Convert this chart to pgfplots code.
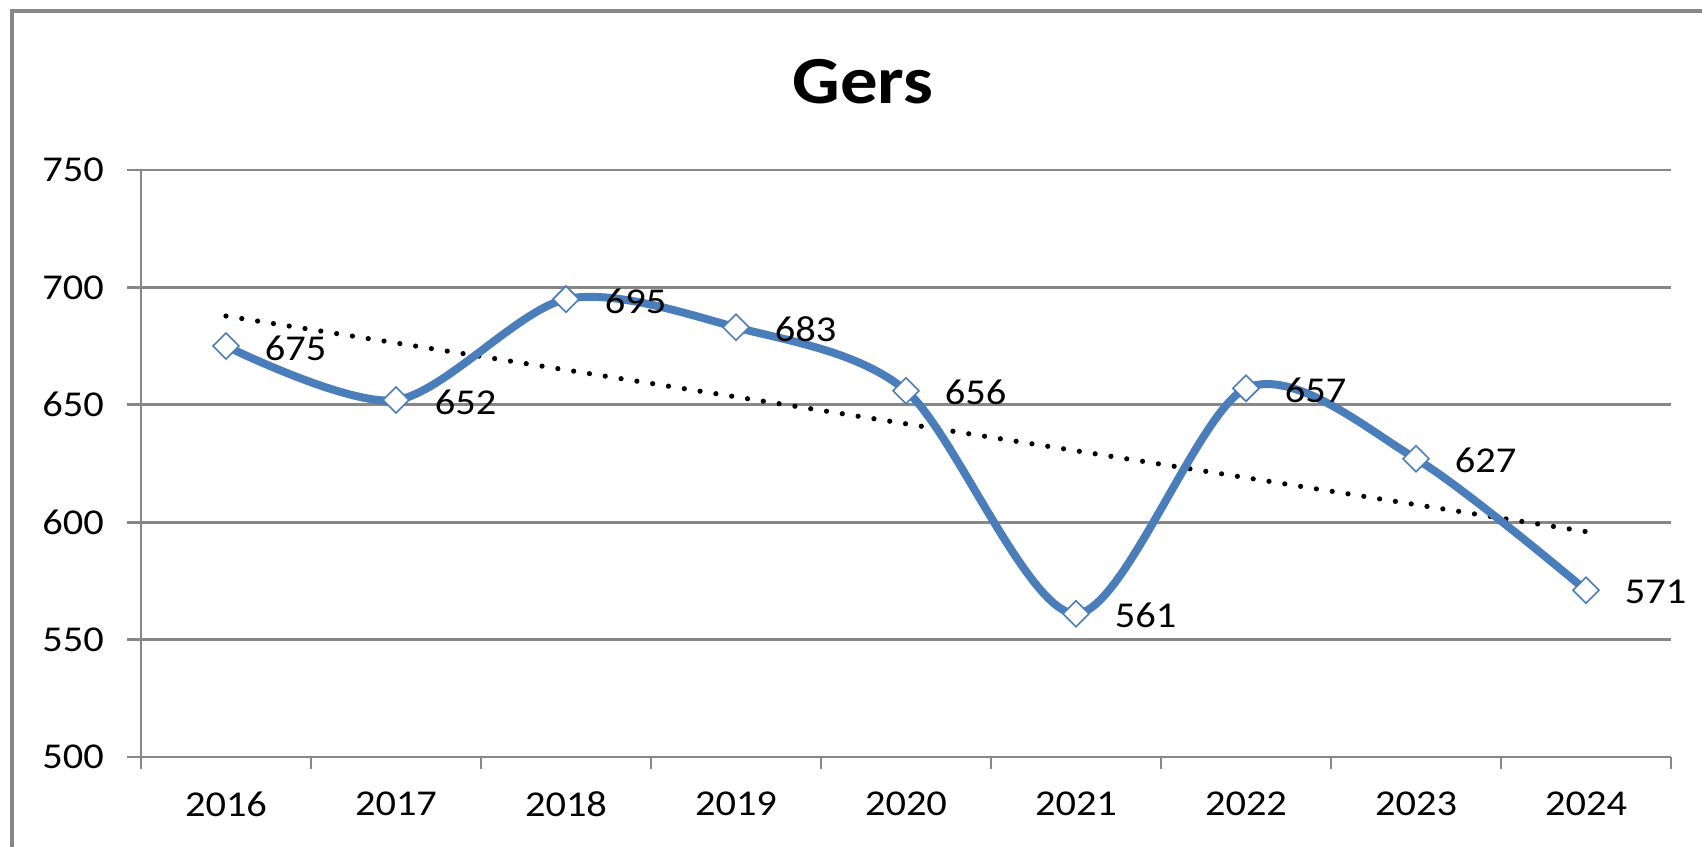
\documentclass[border=0pt]{standalone}
\usepackage{pgfplots}
\pgfplotsset{compat=1.18}
\usepackage{fontspec}
\setmainfont{Carlito}[FakeStretch=1.11]
\definecolor{lineblue}{HTML}{4A7EBB}
\definecolor{gridgray}{HTML}{878787}
\begin{document}
\begin{tikzpicture}
\begin{axis}[
  scale only axis,
  width=765pt, height=293.5pt,
  xmin=-0.5, xmax=8.5,
  ymin=500, ymax=750,
  ytick={500,550,...,750},
  xtick={0,...,8},
  xticklabels={2016,2017,2018,2019,2020,2021,2022,2023,2024},
  minor xtick={-0.5,0.5,...,8.5},
  axis x line=bottom, axis y line=left,
  axis line style={draw=gridgray, line width=1.4pt, -},
  ymajorgrids,
  major grid style={draw=gridgray, line width=1.4pt},
  tick align=outside,
  major x tick style={draw=none},
  minor x tick style={draw=gridgray, line width=1.4pt},
  minor tick length=6pt,
  major y tick style={draw=gridgray, line width=1.4pt},
  major tick length=7pt,
  every tick label/.append style={font=\fontsize{18.2}{20}\selectfont, text=black},
  /pgf/number format/assume math mode=true,
  yticklabel style={xshift=-8pt},
  xticklabel style={yshift=-7pt},
  clip=false,
]
\addplot[black, line width=2.6pt, line cap=round, dash pattern=on 0pt off 8pt] coordinates {(0,687.8) (8,596.0)};
\addplot[lineblue, line width=4pt, smooth, tension=0.5,
  mark=square*, mark size=4.6pt,
  mark options={rotate=45, fill=white, draw=lineblue, line width=0.8pt, solid},
  nodes near coords,
  nodes near coords style={anchor=west, inner sep=0pt, xshift=19pt, yshift=-1pt, text=black, font=\fontsize{18.2}{20}\selectfont, /pgf/number format/assume math mode=true},
] coordinates {(0,675) (1,652) (2,695) (3,683) (4,656) (5,561) (6,657) (7,627) (8,571)};
\end{axis}
\node[font=\fontsize{33.7}{36}\selectfont\bfseries] at (361pt,337.5pt) {Gers};
\draw[gridgray, line width=1.6pt] (-64.5pt,-50pt) -- (-64.5pt,373pt) -- (790pt,373pt);
\pgfresetboundingbox
\path[use as bounding box] (-70.5pt,-44.5pt) rectangle (780.5pt,378.5pt);
\end{tikzpicture}
\end{document}
